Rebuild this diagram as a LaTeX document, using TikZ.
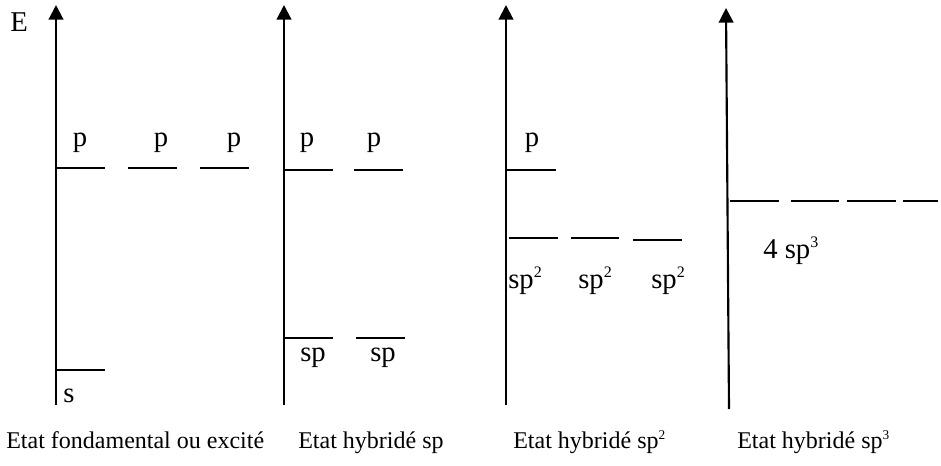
\documentclass[tikz,border=0pt]{standalone}
\usepackage{fontspec}
\setmainfont{Liberation Serif}
\usetikzlibrary{arrows.meta}
\newcommand\bigsup[1]{\raisebox{8.3pt}{\fontsize{12}{12}\selectfont #1}}
\newcommand\smallsup[1]{\raisebox{6.5pt}{\fontsize{10}{10}\selectfont #1}}
\begin{document}
\begin{tikzpicture}[x=0.75pt,y=-0.75pt,
  axis/.style={line width=1.6pt,-{Triangle[length=11pt,width=11pt]}},
  level/.style={line width=1.5pt},
  lab/.style={inner sep=0pt,font=\fontsize{21.5}{24}\selectfont},
  bottomlab/.style={inner sep=0pt,anchor=base west,font=\fontsize{18}{20}\selectfont}]
\useasboundingbox (0,0) rectangle (941,466);
% axes
\coordinate (a1b) at (56,405); \coordinate (a1t) at (56,5);
\coordinate (a2b) at (284,405); \coordinate (a2t) at (284,5);
\coordinate (a3b) at (506,405); \coordinate (a3t) at (506,5);
\coordinate (a4b) at (729,409); \coordinate (a4t) at (726,8);
\draw[axis] (a1b) -- (a1t);
\draw[axis] (a2b) -- (a2t);
\draw[axis] (a3b) -- (a3t);
\draw[axis] (a4b) -- (a4t);
% column 1
\draw[level] (56,168) -- (105,168);
\draw[level] (128,168) -- (177,168);
\draw[level] (200,168) -- (249,168);
\draw[level] (56,370) -- (105,370);
\node[lab,anchor=base west] (E) at (10,32) {E};
\node[lab,anchor=base] (p11) at (80,147) {p};
\node[lab,anchor=base] (p12) at (161,147) {p};
\node[lab,anchor=base] (p13) at (234,147) {p};
\node[lab,anchor=base west] (s1) at (63,402) {s};
% column 2
\draw[level] (284,170) -- (333,170);
\draw[level] (354,170) -- (403,170);
\draw[level] (284,338) -- (333,338);
\draw[level] (356,338) -- (405,338);
\node[lab,anchor=base] (p21) at (307,147) {p};
\node[lab,anchor=base] (p22) at (374,147) {p};
\node[lab,anchor=base west] (sp21) at (300,361) {sp};
\node[lab,anchor=base west] (sp22) at (370,361) {sp};
% column 3
\draw[level] (506,170) -- (556,170);
\draw[level] (509,238) -- (558,238);
\draw[level] (571,238) -- (619,238);
\draw[level] (633,240) -- (682,240);
\node[lab,anchor=base] (p31) at (532,147) {p};
\node[lab,anchor=base west] (sp31) at (508,289) {sp\bigsup{2}};
\node[lab,anchor=base west] (sp32) at (578,289) {sp\bigsup{2}};
\node[lab,anchor=base west] (sp33) at (651,289) {sp\bigsup{2}};
% column 4
\draw[level] (730,201) -- (779,201);
\draw[level] (791,201) -- (839,201);
\draw[level] (847,201) -- (896,201);
\draw[level] (903,201) -- (938,201);
\node[lab,anchor=base west] (sp41) at (763,259) {4 sp\bigsup{3}};
% captions
\node[bottomlab] (c1) at (6,448) {Etat fondamental ou excité};
\node[bottomlab] (c2) at (298,448) {Etat hybridé sp};
\node[bottomlab] (c3) at (513,448) {Etat hybridé sp\smallsup{2}};
\node[bottomlab] (c4) at (737,448) {Etat hybridé sp\smallsup{3}};
\end{tikzpicture}
\end{document}
